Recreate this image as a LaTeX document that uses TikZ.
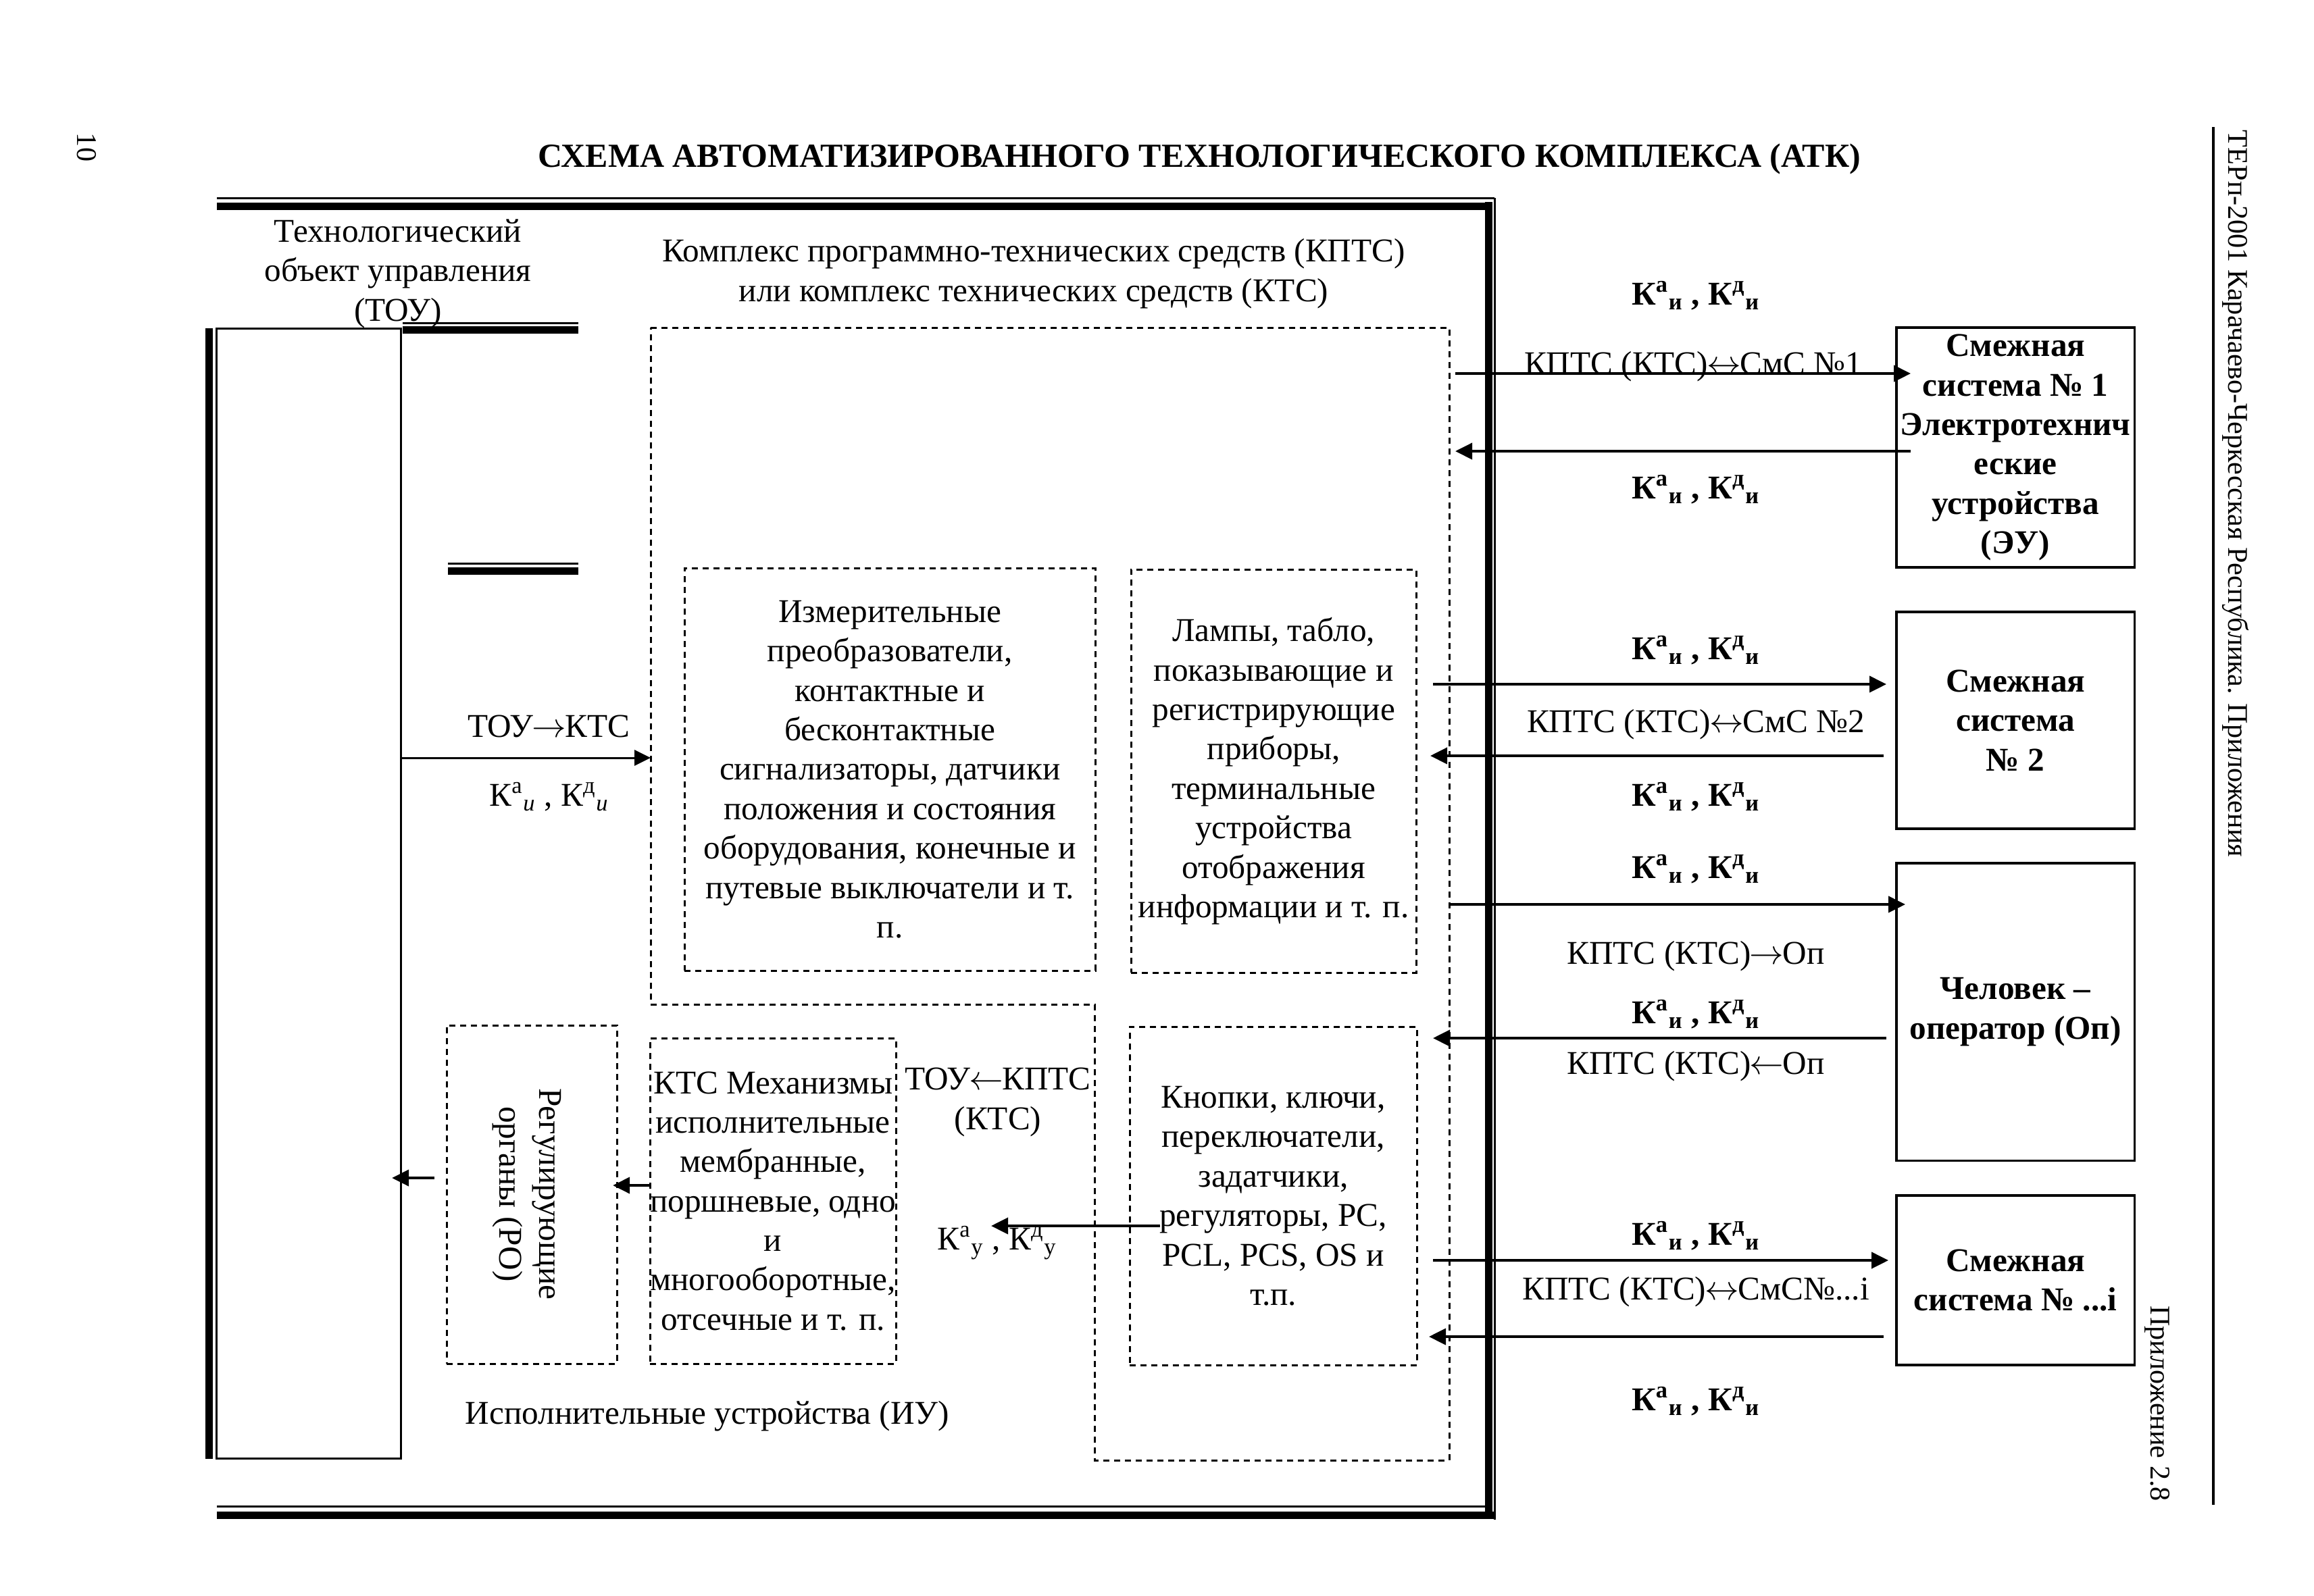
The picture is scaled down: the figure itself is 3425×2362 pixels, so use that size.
\documentclass[tikz,border=0pt]{standalone}
\usepackage{fontspec}
\setmainfont{Liberation Serif}
\usetikzlibrary{arrows.meta,calc}
\tikzset{
  every node/.style={inner sep=0pt, outer sep=0pt},
  thinl/.style={line width=0.3mm},
  thickl/.style={line width=1.1mm},
  dashl/.style={line width=0.3mm, dash pattern=on 0.9mm off 0.7mm},
  dbox/.style={dashl, draw, align=center, anchor=north west, font=\fontsize{14}{16.6}\selectfont},
  sbox/.style={draw, line width=0.35mm, align=center, anchor=north west, font=\bfseries\fontsize{14}{16.6}\selectfont},
  lbl/.style={anchor=base, font=\fontsize{14}{16.6}\selectfont},
  blbl/.style={anchor=base, font=\bfseries\fontsize{14}{16.6}\selectfont},
  mtxt/.style={align=center, font=\fontsize{14}{16.6}\selectfont},
  arr/.style={line width=0.4mm, -{Triangle[length=2.5mm,width=2.4mm]}},
}
\newcommand{\KaKd}[1]{К\textsuperscript{а}\textsubscript{#1} , К\textsuperscript{д}\textsubscript{#1}}
\newcommand{\RA}{\kern-0.5pt$\rightarrow$\kern-0.5pt}
\newcommand{\LA}{\kern-0.5pt$\leftarrow$\kern-0.5pt}
\newcommand{\LRA}{\kern-0.5pt$\leftrightarrow$\kern-0.5pt}
\begin{document}
\begin{tikzpicture}[x=0.01cm,y=-0.01cm]
\useasboundingbox (0,0) rectangle (3425,2362);
\fill[white] (0,0) rectangle (3425,2362);

% page furniture
\node[rotate=-90, font=\fontsize{12}{14}\selectfont] (pnum) at (128,218) {10};
\node[anchor=base, font=\bfseries\fontsize{14.2}{16.6}\selectfont] (title) at (1775,247)
  {СХЕМА АВТОМАТИЗИРОВАННОГО ТЕХНОЛОГИЧЕСКОГО КОМПЛЕКСА (АТК)};
\draw[line width=0.4mm] (3276,188) -- (3276,2228);
\node[rotate=-90, font=\fontsize{12}{14}\selectfont] (hdr) at (3309,731)
  {ТЕРп-2001 Карачаево-Черкесская Республика. Приложения};
\node[rotate=-90, font=\fontsize{12}{14}\selectfont] (app) at (3193,2078) {Приложение 2.8};

% big frame (thin + thick lines)
\draw[thinl] (321,293) -- (2212,293);
\draw[thickl] (321,305) -- (2208,305);
\draw[thickl] (2203,299) -- (2203,2242);
\draw[thinl] (2212,293) -- (2212,2250);
\draw[thinl] (321,2230) -- (2198,2230);
\draw[thickl] (321,2243) -- (2212,2243);
% short double segments
\draw[thinl] (596,478) -- (856,478);
\draw[thickl] (596,488) -- (856,488);
\draw[thinl] (663,834) -- (856,834);
\draw[thickl] (663,845) -- (856,845);

% TOU
\node[draw, thinl, minimum width=2.73cm, minimum height=16.72cm, anchor=north west] (tou) at (320,486) {};
\draw[thickl] (309,486) -- (309,2160);
\node[mtxt] (toutxt) at (589,405) {Технологический\\объект управления\\(ТОУ)};

% KPTS outline
\coordinate (kA) at (963,485);
\coordinate (kB) at (2145,485);
\coordinate (kC) at (2145,2162);
\coordinate (kD) at (1620,2162);
\coordinate (kE) at (1620,1487);
\coordinate (kF) at (963,1487);
\draw[dashl] (kA) -- (kB) -- (kC) -- (kD) -- (kE) -- (kF) -- cycle;
\node[mtxt] (kptstxt) at (1530,405)
  {Комплекс программно-технических средств (КПТС)\\или комплекс технических средств (КТС)};

% inner dashed boxes
\node[dbox, minimum width=6.08cm, minimum height=5.96cm] (izm) at (1013,841)
  {Измерительные\\преобразователи,\\контактные и\\бесконтактные\\сигнализаторы, датчики\\положения и состояния\\оборудования, конечные и\\путевые выключатели и т.\\п.};
\node[dbox, minimum width=4.22cm, minimum height=5.97cm] (lamp) at (1674,843)
  {Лампы, табло,\\показывающие и\\регистрирующие\\приборы,\\терминальные\\устройства\\отображения\\информации и т. п.};
\node[dbox, minimum width=4.25cm, minimum height=5.01cm] (knop) at (1672,1520)
  {Кнопки, ключи,\\переключатели,\\задатчики,\\регуляторы, PC,\\PCL, PCS, OS и\\т.п.};
\node[dbox, minimum width=3.64cm, minimum height=4.82cm] (mech) at (962,1537)
  {КТС Механизмы\\исполнительные\\мембранные,\\поршневые, одно\\и\\многооборотные,\\отсечные и т. п.};
\node[dbox, minimum width=2.52cm, minimum height=5.01cm] (ro) at (661,1518) {};
\node[mtxt, rotate=-90] (rotxt) at (780,1768) {Регулирующие\\органы (РО)};

% inner labels
\node[lbl] (ltk) at (812,1091) {ТОУ\RA КТС};
\node[lbl] (lki) at (813,1193) {К\textsuperscript{а}\textsubscript{\textit{и}} , К\textsuperscript{д}\textsubscript{\textit{и}}};
\node[mtxt] (ltouk) at (1477,1632) {ТОУ\LA КПТС\\(КТС)};
\node[lbl] (ky) at (1476,1850) {\KaKd{у}};
\node[lbl] (iu) at (1047,2108) {Исполнительные устройства (ИУ)};
\coordinate (kyT) at (1467,1815);

% inner arrows
\draw[line width=0.3mm, -{Triangle[length=2.4mm,width=2.3mm]}] (tou.east |- 0,1122) -- (kA |- 0,1122);
\draw[arr] ($(knop.west |- 0,1815)+(45,0)$) -- (kyT);
\draw[arr] (mech.west |- 0,1755) -- ($(ro.east |- 0,1755)+(-6,0)$);
\draw[arr] ($(ro.west |- 0,1744)+(-18,0)$) -- ($(tou.east |- 0,1744)+(-13,0)$);

% adjacent systems
\node[sbox, minimum width=3.52cm, minimum height=3.55cm] (sm1) at (2807,485)
  {Смежная\\система № 1\\Электротехнич\\еские\\устройства\\(ЭУ)};
\node[sbox, minimum width=3.52cm, minimum height=3.21cm] (sm2) at (2807,906)
  {Смежная\\система\\№ 2};
\node[sbox, minimum width=3.52cm, minimum height=4.40cm] (op) at (2807,1278)
  {Человек –\\оператор (Оп)};
\node[sbox, minimum width=3.52cm, minimum height=2.51cm] (smi) at (2807,1770)
  {Смежная\\система № ...i};

% right arrows
\draw[arr] ($(kB |- 0,553)+(9,0)$) -- ($(sm1.west |- 0,553)+(21,0)$);
\draw[arr] ($(sm1.west |- 0,668)+(21,0)$) -- ($(kB |- 0,668)+(9,0)$);
\draw[arr] ($(kB |- 0,1013)+(-24,0)$) -- ($(sm2.west |- 0,1013)+(-15,0)$);
\draw[arr] ($(sm2.west |- 0,1119)+(-19,0)$) -- ($(kB |- 0,1119)+(-28,0)$);
\draw[arr] (kB |- 0,1339) -- ($(op.west |- 0,1339)+(13,0)$);
\draw[arr] ($(op.west |- 0,1537)+(-15,0)$) -- ($(kB |- 0,1537)+(-24,0)$);
\draw[arr] ($(kB |- 0,1866)+(-24,0)$) -- ($(smi.west |- 0,1866)+(-12,0)$);
\draw[arr] ($(smi.west |- 0,1979)+(-19,0)$) -- ($(kB |- 0,1979)+(-30,0)$);

% right labels
\node[blbl] (k1) at (2510,451) {\KaKd{и}};
\node[lbl] (c1) at (2506,554) {КПТС (КТС)\LRA СмС №1};
\node[blbl] (k2) at (2510,738) {\KaKd{и}};
\node[blbl] (k3) at (2510,976) {\KaKd{и}};
\node[lbl] (c2) at (2510,1084) {КПТС (КТС)\LRA СмС №2};
\node[blbl] (k4) at (2510,1193) {\KaKd{и}};
\node[blbl] (k5) at (2510,1300) {\KaKd{и}};
\node[lbl] (c3) at (2510,1427) {КПТС (КТС)\RA Оп};
\node[blbl] (k6) at (2510,1515) {\KaKd{и}};
\node[lbl] (c4) at (2510,1590) {КПТС (КТС)\LA Оп};
\node[blbl] (k7) at (2510,1843) {\KaKd{и}};
\node[lbl] (c5) at (2510,1924) {КПТС (КТС)\LRA СмС№...i};
\node[blbl] (k8) at (2510,2088) {\KaKd{и}};
\end{tikzpicture}
\end{document}
